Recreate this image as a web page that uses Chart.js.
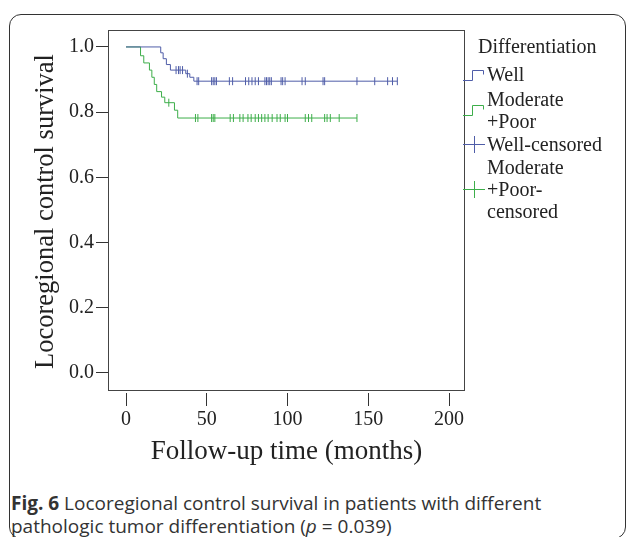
<!DOCTYPE html>
<html lang="en">
<head>
    <meta charset="UTF-8">
    <title>Locoregional control survival by differentiation</title>
    <script src="https://cdn.jsdelivr.net/npm/chart.js"></script>
    <style>
body {
  margin: 0;
  background: #fff;
  width: 627px;
  height: 537px;
  overflow: hidden;
  position: relative;
}

#frame {
  position: absolute;
  left: 9px;
  top: 14px;
  width: 617px;
  height: 525px;
  box-sizing: border-box;
  border: 1.5px solid #333;
  border-radius: 12px;
}

#chartBox {
  position: absolute;
  left: 0;
  top: 0;
  width: 627px;
  height: 470px;
}

#legend {
  position: absolute;
  left: 463px;
  top: 35px;
  font-family: 'Liberation Serif', serif;
  font-size: 20px;
  line-height: 22px;
  color: #222;
}

#legend .title {
  margin-left: 15px;
  margin-bottom: 6px;
}

#legend .item {
  position: relative;
  padding-left: 24px;
  margin-bottom: 1px;
}

#legend .item.gap {
  margin-top: 3px;
}

#legend svg {
  position: absolute;
  left: 0;
}

#caption {
  position: absolute;
  left: 11px;
  top: 492px;
  font-family: 'Open Sans', sans-serif;
  font-size: 19px;
  line-height: 23px;
  color: #333;
}
    </style>
</head>
<body>
    <div id="frame"></div>
    <div id="chartBox">
        <canvas id="kmChart" width="627" height="470"></canvas>
    </div>

    <div id="legend">
        <div class="title">Differentiation</div>
        <div class="item">
            <svg width="24" height="22" style="top:0"><path d="M0 17.5 H9.5 V7.5 H20.5 V11.5" fill="none" stroke="#4f5da8" stroke-width="1"/></svg>
            Well
        </div>
        <div class="item gap">
            <svg width="24" height="22" style="top:10px"><path d="M0 17.5 H9.5 V7.5 H20.5 V11.5" fill="none" stroke="#3dae4a" stroke-width="1"/></svg>
            Moderate<br>+Poor
        </div>
        <div class="item">
            <svg width="24" height="22" style="top:0"><path d="M0 11.5 H22 M11.5 3 V20" fill="none" stroke="#4f5da8" stroke-width="1"/></svg>
            Well-censored
        </div>
        <div class="item">
            <svg width="24" height="22" style="top:22px"><path d="M0 11.5 H22 M11.5 3 V20" fill="none" stroke="#3dae4a" stroke-width="1"/></svg>
            Moderate<br>+Poor-<br>censored
        </div>
    </div>

    <div id="caption">
        <b>Fig. 6</b> Locoregional control survival in patients with different<br>
        pathologic tumor differentiation (<i>p</i> = 0.039)
    </div>

    <script>
        // Kaplan-Meier steps (months, survival)
        const wellTimes = [21.5, 23, 25, 27.5, 37, 39.5, 42];
        const wellSurv = [0.982, 0.964, 0.946, 0.929, 0.918, 0.907, 0.895];
        const wellCensored = [31, 32.5, 33.5, 35, 38, 44, 45, 53, 54, 55, 56, 64, 66, 74, 76, 78, 80, 82,
            86, 87, 88, 89, 90, 96, 97, 98.5, 109, 111, 122, 123, 143, 154, 162, 165, 168];

        const modTimes = [9, 11, 14.5, 16, 17.5, 19, 22, 24, 30, 32];
        const modSurv = [0.973, 0.951, 0.929, 0.907, 0.885, 0.863, 0.846, 0.829, 0.806, 0.782];
        const modCensored = [26.5, 43, 44.5, 53, 54, 55, 64.5, 66.5, 70.5, 72.5, 75.5, 77.5, 80, 82, 84,
            86, 88, 90.5, 93.5, 95.5, 98.5, 100, 111, 113, 115, 123, 124.5, 126.5, 132, 143];

        const xTicks = [0, 50, 100, 150, 200];
        const yTicks = [0, 0.2, 0.4, 0.6, 0.8, 1.0];

        const blue = '#4f5da8';
        const green = '#3dae4a';

        // survival value of a curve at time t
        function survAt(times, surv, t) {
            let s = 1;
            for (let i = 0; i < times.length; i++) {
                if (times[i] <= t) s = surv[i];
            }
            return s;
        }

        function curve(times, surv, censored) {
            const pts = [{x: 0, y: 1}];
            times.forEach((t, i) => pts.push({x: t, y: surv[i]}));
            const last = censored[censored.length - 1];
            pts.push({x: last, y: surv[surv.length - 1]});
            return pts;
        }

        function marks(times, surv, censored) {
            return censored.map(t => ({x: t, y: survAt(times, surv, t)}));
        }

        // plot frame, drawn slightly above the x tick marks like the original
        const framePlugin = {
            id: 'frame',
            beforeDatasetsDraw(chart) {
                const a = chart.chartArea;
                const ctx = chart.ctx;
                ctx.save();
                ctx.strokeStyle = '#444';
                ctx.lineWidth = 1;
                ctx.strokeRect(a.left + 0.5, a.top + 0.5, a.right - a.left - 1, a.bottom - a.top - 3);
                ctx.restore();
            }
        };

        const serif = 'Liberation Serif';

        const ctx = document.getElementById('kmChart').getContext('2d');
        const kmChart = new Chart(ctx, {
            type: 'line',
            data: {
                datasets: [
                    {
                        label: 'Well',
                        data: curve(wellTimes, wellSurv, wellCensored),
                        borderColor: blue,
                        borderWidth: 1,
                        stepped: true,
                        pointRadius: 0,
                        fill: false
                    },
                    {
                        label: 'Moderate +Poor',
                        data: curve(modTimes, modSurv, modCensored),
                        borderColor: green,
                        borderWidth: 1,
                        stepped: true,
                        pointRadius: 0,
                        fill: false
                    },
                    {
                        label: 'Well-censored',
                        type: 'scatter',
                        data: marks(wellTimes, wellSurv, wellCensored),
                        pointStyle: 'line',
                        rotation: 90,
                        pointRadius: 4,
                        borderColor: blue,
                        borderWidth: 1,
                        showLine: false
                    },
                    {
                        label: 'Moderate +Poor-censored',
                        type: 'scatter',
                        data: marks(modTimes, modSurv, modCensored),
                        pointStyle: 'line',
                        rotation: 90,
                        pointRadius: 4,
                        borderColor: green,
                        borderWidth: 1,
                        showLine: false
                    }
                ]
            },
            options: {
                responsive: false,
                animation: false,
                layout: {
                    padding: {top: 30, right: 162, bottom: 0, left: 0}
                },
                plugins: {
                    legend: {display: false},
                    tooltip: {enabled: false}
                },
                scales: {
                    x: {
                        type: 'linear',
                        min: -11.15,
                        max: 209.9,
                        afterBuildTicks: s => { s.ticks = xTicks.map(v => ({value: v})); },
                        afterFit: s => { s.height = 77; },
                        border: {display: false},
                        grid: {drawOnChartArea: false, drawTicks: true, tickLength: 13, color: '#333'},
                        ticks: {
                            padding: 2,
                            color: '#222',
                            font: {family: serif, size: 20}
                        },
                        title: {
                            display: true,
                            text: 'Follow-up time (months)',
                            color: '#222',
                            font: {family: serif, size: 27, lineHeight: 1.2},
                            padding: {top: 0, bottom: 2}
                        }
                    },
                    y: {
                        type: 'linear',
                        min: -0.0615,
                        max: 1.052,
                        afterBuildTicks: s => { s.ticks = yTicks.map(v => ({value: v})); },
                        afterFit: s => { s.width = 108; },
                        border: {display: false},
                        grid: {drawOnChartArea: false, drawTicks: true, tickLength: 12, color: '#333'},
                        ticks: {
                            padding: 2,
                            color: '#222',
                            font: {family: serif, size: 20},
                            callback: v => v.toFixed(1)
                        },
                        title: {
                            display: true,
                            text: 'Locoregional control survival',
                            color: '#222',
                            font: {family: serif, size: 26.5, lineHeight: 1.2},
                            padding: {top: 30, bottom: 0}
                        }
                    }
                }
            },
            plugins: [framePlugin]
        });
    </script>
</body>
</html>
